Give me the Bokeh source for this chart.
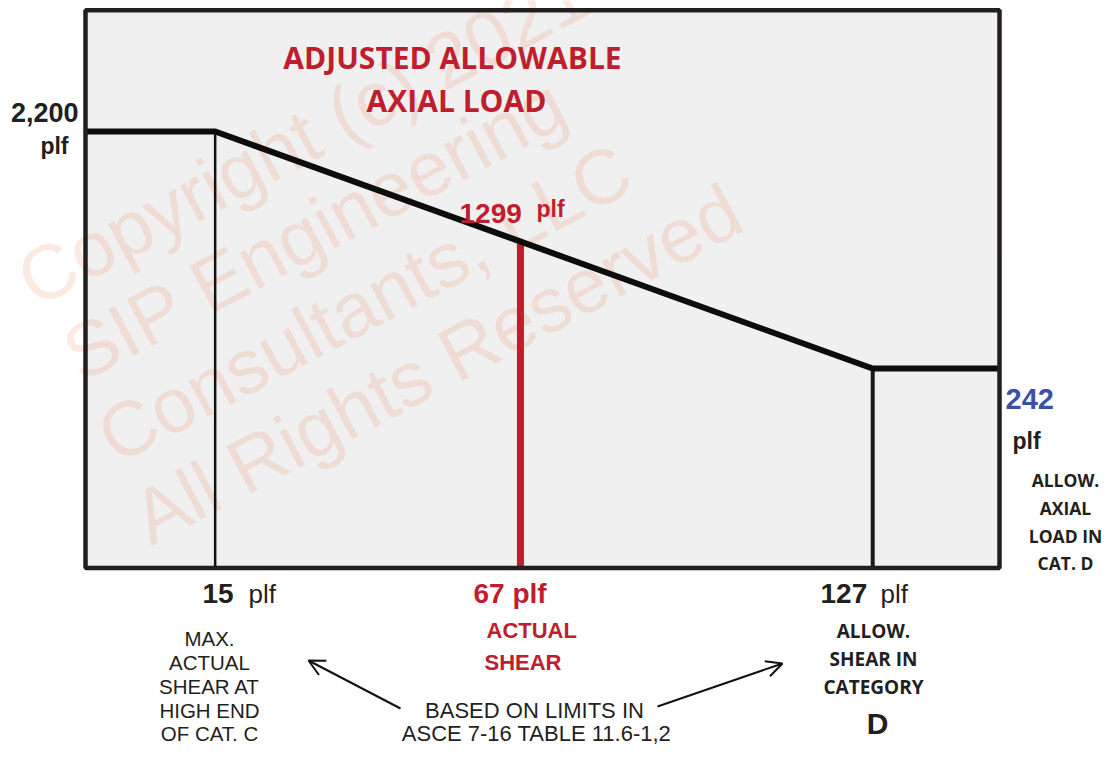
import math
from bokeh.plotting import figure
from bokeh.models import Range1d, Arrow, OpenHead
from bokeh.core.properties import value
from bokeh.embed import file_html
from bokeh.resources import INLINE

# ---------------- data ----------------
shear_points = [15, 67, 127]            # plf (x)
shear_labels = ["15", "67", "127"]
axial_max = 2200                        # plf, allowable axial load at low shear
axial_min = 242                         # plf, allowable axial load in Cat. D
actual_shear = 67
actual_axial = 1299
axial_max_label = "2,200"
axial_min_label = "242"
actual_axial_label = "1299"

watermark_lines = ["Copyright (c) 2021", "SIP Engineering",
                   "Consultants, LLC", "All Rights Reserved"]

# ---------------- layout ----------------
W, H = 1103, 746
KX = 5.871            # px per plf (x)
X0 = 126.6            # px of x = 0
KY = 237 / 1958       # px per plf (y)


def X(px):
    return (px - X0) / KX


def Y(py):
    return 2200 + (131 - py) / KY


DARK = "#231f20"
RED = "#be1e2d"
BLUE = "#3c50a8"
ARIAL = value("Liberation Sans")
OPEN = value("Open Sans")

p = figure(width=W, height=H, output_backend="svg", toolbar_location=None,
           x_range=Range1d(X(0), X(W)), y_range=Range1d(Y(H), Y(0)),
           min_border=0, outline_line_color=None, background_fill_color="white",
           border_fill_color="white")
p.axis.visible = False
p.grid.visible = False

box_l, box_r, box_t, box_b = X(85), X(999), Y(9.7), Y(567.5)

# background box fill
p.quad(left=[box_l], right=[box_r], top=[box_t], bottom=[box_b],
       fill_color="#f0f0f0", line_color=None)

# watermark
wm_anchor = [(22.6, 284.4), (68.6, 358.7), (103, 441), (137.8, 522)]
p.text(x=[X(a) for a, b in wm_anchor], y=[Y(b) for a, b in wm_anchor],
       text=watermark_lines, angle=math.radians(28),
       text_font=ARIAL, text_font_size="77px", text_color="#ee7a4c",
       text_alpha=0.17, text_align="left", text_baseline="middle")

# thin vertical at 15 plf
p.segment(x0=[shear_points[0]], y0=[axial_max], x1=[shear_points[0]], y1=[box_b],
          line_color="#111111", line_width=2.5)
# vertical at 127 plf
p.segment(x0=[shear_points[2]], y0=[axial_min], x1=[shear_points[2]], y1=[box_b],
          line_color="#1a1a1a", line_width=4)
# red actual shear line
p.segment(x0=[actual_shear], y0=[actual_axial], x1=[actual_shear], y1=[box_b],
          line_color=RED, line_width=7)

# main allowable axial load line
p.line(x=[box_l, shear_points[0], shear_points[2], box_r],
       y=[axial_max, axial_max, axial_min, axial_min],
       line_color="#0d0d0d", line_width=6, line_join="miter")

# box border
p.quad(left=[box_l], right=[box_r], top=[box_t], bottom=[box_b],
       fill_color=None, line_color="#231f20", line_width=4.5)


def txt(px, py, s, size, color=DARK, bold=True, font=ARIAL, align="left"):
    p.text(x=[X(px)], y=[Y(py)], text=[s], text_font=font,
           text_font_size=f"{size}px", text_color=color,
           text_font_style="bold" if bold else "normal",
           text_align=align, text_baseline="alphabetic")


# left axis labels
txt(78, 112, axial_max_label, 27, align="right")
txt(68, 145, "plf", 23, align="right")

# title
txt(452, 57, "ADJUSTED ALLOWABLE", 30, color=RED, font=OPEN, align="center")
txt(456, 100, "AXIAL LOAD", 30, color=RED, font=OPEN, align="center")

# actual axial label
txt(459, 213, actual_axial_label, 28, color=RED)
txt(536, 208, "plf", 23, color=RED)

# right labels
txt(1005, 398, axial_min_label, 29, color=BLUE)
txt(1012, 440, "plf", 23)
for s, yy in zip(["ALLOW.", "AXIAL", "LOAD IN", "CAT. D"], [479, 507, 535, 562]):
    txt(1065, yy, s, 17.5, font=OPEN, align="center")

# bottom shear labels
txt(202, 593, shear_labels[0], 28)
txt(248, 593, "plf", 26, bold=False)
txt(473, 593, shear_labels[1] + " plf", 28, color=RED)
txt(820, 593, shear_labels[2], 28)
txt(880, 593, "plf", 26, bold=False)

# notes
for s, yy in zip(["MAX.", "ACTUAL", "SHEAR AT", "HIGH END", "OF CAT. C"],
                 [638, 662, 686, 710, 733]):
    txt(209, yy, s, 20.5, bold=False, align="center")
txt(486, 630, "ACTUAL", 22, color=RED)
txt(484, 662, "SHEAR", 22, color=RED)
for s, yy in zip(["ALLOW.", "SHEAR IN", "CATEGORY"], [630, 658, 686]):
    txt(873, yy, s, 19, font=OPEN, align="center")
txt(877, 723, "D", 30, align="center")
txt(534, 710, "BASED ON LIMITS IN", 22, bold=False, align="center")
txt(536, 733, "ASCE 7-16 TABLE 11.6-1,2", 22, bold=False, align="center")

# arrows
p.add_layout(Arrow(end=OpenHead(size=16, line_width=2, line_color="#111111"),
                   x_start=X(400), y_start=Y(708), x_end=X(308), y_end=Y(660),
                   line_width=2, line_color="#111111"))
p.add_layout(Arrow(end=OpenHead(size=16, line_width=2, line_color="#111111"),
                   x_start=X(657), y_start=Y(706), x_end=X(782), y_end=Y(663),
                   line_width=2, line_color="#111111"))

open("out.html", "w").write(file_html(p, INLINE))
